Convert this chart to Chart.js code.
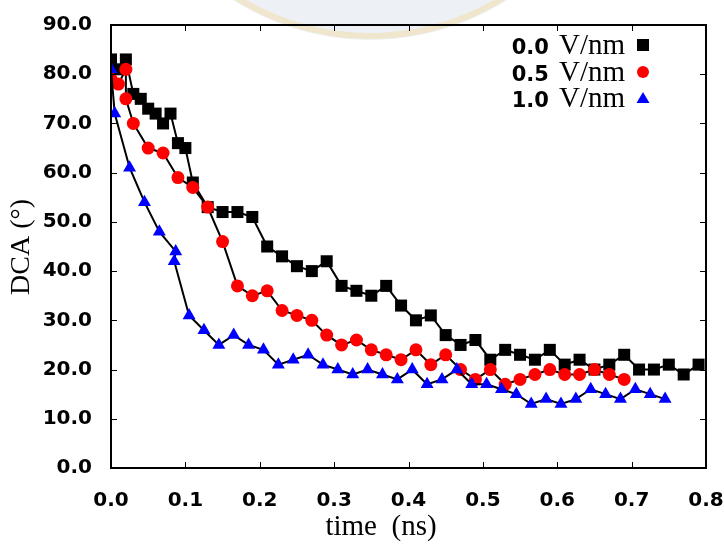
<!DOCTYPE html>
<html>
<head>
<meta charset="utf-8">
<script src="https://cdn.jsdelivr.net/npm/chart.js@4.4.1/dist/chart.umd.min.js"></script>
<style>
  html, body { margin: 0; padding: 0; background: #ffffff; }
  #wrap { width: 724px; height: 546px; position: relative; }
</style>
</head>
<body>
<div id="wrap"><canvas id="chart" width="724" height="546"></canvas></div>
<script>
// Contact-angle relaxation (DCA, degrees) versus simulation time (ns) for three field strengths.
const seriesLabels = ['0.0', '0.5', '1.0'];

const time00 = [0.00, 0.01, 0.02, 0.03, 0.04, 0.05, 0.06, 0.07, 0.08, 0.09, 0.10, 0.11,
  0.13, 0.15, 0.17, 0.19, 0.21, 0.23, 0.25, 0.27, 0.29, 0.31, 0.33, 0.35, 0.37, 0.39,
  0.41, 0.43, 0.45, 0.47, 0.49, 0.51, 0.53, 0.55, 0.57, 0.59, 0.61, 0.63, 0.65, 0.67,
  0.69, 0.71, 0.73, 0.75, 0.77, 0.79];
const dca00 = [83, 81, 83, 76, 75, 73, 72, 70, 72, 66, 65, 58,
  53, 52, 52, 51, 45, 43, 41, 40, 42, 37, 36, 35, 37, 33,
  30, 31, 27, 25, 26, 22, 24, 23, 22, 24, 21, 22, 20, 21,
  23, 20, 20, 21, 19, 21];

const time05 = [0.00, 0.01, 0.02, 0.02, 0.03, 0.05, 0.07, 0.09, 0.11, 0.13, 0.15, 0.17,
  0.19, 0.21, 0.23, 0.25, 0.27, 0.29, 0.31, 0.33, 0.35, 0.37, 0.39, 0.41, 0.43, 0.45,
  0.47, 0.49, 0.51, 0.53, 0.55, 0.57, 0.59, 0.61, 0.63, 0.65, 0.67, 0.69];
const dca05 = [79, 78, 81, 75, 70, 65, 64, 59, 57, 53, 46, 37,
  35, 36, 32, 31, 30, 27, 25, 26, 24, 23, 22, 24, 21, 23,
  20, 18, 20, 17, 18, 19, 20, 19, 19, 20, 19, 18];

const time10 = [0.000, 0.005, 0.025, 0.045, 0.065, 0.087, 0.085, 0.105, 0.125, 0.145,
  0.165, 0.185, 0.205, 0.225, 0.245, 0.265, 0.285, 0.305, 0.325, 0.345, 0.365, 0.385,
  0.405, 0.425, 0.445, 0.465, 0.485, 0.505, 0.525, 0.545, 0.565, 0.585, 0.605, 0.625,
  0.645, 0.665, 0.685, 0.705, 0.725, 0.745];
const dca10 = [81, 72, 61, 54, 48, 44, 42, 31, 28, 25,
  27, 25, 24, 21, 22, 23, 21, 20, 19, 20, 19, 18,
  20, 17, 18, 20, 17, 17, 16, 15, 13, 14, 13, 14,
  16, 15, 14, 16, 15, 14];

const xTicks = [0.0, 0.1, 0.2, 0.3, 0.4, 0.5, 0.6, 0.7, 0.8];
const yTicks = [0, 10, 20, 30, 40, 50, 60, 70, 80, 90];

const xTitle = 'time  (ns)';
const yTitle = 'DCA (°)';
const unitText = 'V/nm';

const markerColors = ['#000000', '#ff0000', '#0000ff'];
const markerStyles = ['rect', 'circle', 'triangle'];
const markerRadii = [8.5, 6.5, 7.5];

const TICK_FONT = { family: 'DejaVu Sans', size: 20, weight: 'bold' };
const SERIF = '"Liberation Serif", "Times New Roman", serif';

function pairs(xs, ys) { return xs.map((x, i) => ({ x: x, y: ys[i] })); }

const seriesData = [pairs(time00, dca00), pairs(time05, dca05), pairs(time10, dca10)];

const datasets = seriesData.map((d, i) => ({
  label: seriesLabels[i] + ' ' + unitText,
  data: d,
  order: 3 - i,
  borderColor: '#000000',
  borderWidth: 2,
  pointStyle: markerStyles[i],
  pointRadius: markerRadii[i],
  pointBackgroundColor: markerColors[i],
  pointBorderColor: markerColors[i],
  pointBorderWidth: 0,
  showLine: true,
  tension: 0,
  fill: false
}));

// Faint seal behind the plot (upper centre of the page).
const sealPlugin = {
  id: 'seal',
  beforeDraw(chart) {
    const { ctx } = chart;
    ctx.save();
    ctx.beginPath();
    ctx.arc(370, -215, 255, 0, Math.PI * 2);
    ctx.fillStyle = 'rgba(210, 219, 230, 0.4)';
    ctx.fill();
    ctx.beginPath();
    ctx.arc(370, -215, 251, 0, Math.PI * 2);
    ctx.strokeStyle = 'rgba(244, 210, 130, 0.35)';
    ctx.lineWidth = 6;
    ctx.stroke();
    ctx.restore();
  }
};

// Frame with inward ticks on all four sides (mirrored), plus the axis titles.
const framePlugin = {
  id: 'frame',
  afterDatasetsDraw(chart) {
    const { ctx, chartArea: a, scales } = chart;
    ctx.save();
    ctx.strokeStyle = '#000';
    ctx.lineWidth = 2;
    ctx.beginPath();
    ctx.rect(a.left, a.top, a.right - a.left, a.bottom - a.top);
    ctx.stroke();
    ctx.lineWidth = 1;
    const len = 6;
    ctx.beginPath();
    xTicks.forEach(v => {
      const px = Math.round(scales.x.getPixelForValue(v)) + 0.5;
      ctx.moveTo(px, a.bottom); ctx.lineTo(px, a.bottom - len);
      ctx.moveTo(px, a.top); ctx.lineTo(px, a.top + len);
    });
    yTicks.forEach(v => {
      const py = Math.round(scales.y.getPixelForValue(v)) + 0.5;
      ctx.moveTo(a.left, py); ctx.lineTo(a.left + len, py);
      ctx.moveTo(a.right, py); ctx.lineTo(a.right - len, py);
    });
    ctx.stroke();

    ctx.fillStyle = '#000';
    ctx.font = '29px ' + SERIF;
    ctx.textAlign = 'center';
    ctx.textBaseline = 'middle';
    ctx.fillText(xTitle, 381, 527);
    ctx.translate(22, 247);
    ctx.rotate(-Math.PI / 2);
    ctx.font = '28px ' + SERIF;
    ctx.fillText(yTitle, 0, 0);
    ctx.restore();
  }
};

// Key in the upper-right corner: label text right-aligned, marker to its right.
const keyPlugin = {
  id: 'key',
  afterDraw(chart) {
    const { ctx } = chart;
    const baselines = [54, 81, 107];
    const markerX = 643;
    ctx.save();
    ctx.textBaseline = 'alphabetic';
    ctx.textAlign = 'right';
    baselines.forEach((b, i) => {
      ctx.fillStyle = '#000';
      ctx.font = '29px ' + SERIF;
      const unitW = ctx.measureText(unitText).width;
      ctx.fillText(unitText, 625, b);
      ctx.font = 'bold 21px "DejaVu Sans"';
      ctx.fillText(seriesLabels[i], 625 - unitW - 10, b);
      const y = b - 9;
      ctx.fillStyle = markerColors[i];
      ctx.beginPath();
      if (i === 0) {
        ctx.rect(markerX - 6, y - 6, 12, 12);
      } else if (i === 1) {
        ctx.arc(markerX, y, 6, 0, Math.PI * 2);
      } else {
        ctx.moveTo(markerX, y - 6);
        ctx.lineTo(markerX + 6.5, y + 5);
        ctx.lineTo(markerX - 6.5, y + 5);
        ctx.closePath();
      }
      ctx.fill();
    });
    ctx.restore();
  }
};

new Chart(document.getElementById('chart'), {
  type: 'scatter',
  data: { datasets: datasets },
  options: {
    responsive: false,
    animation: false,
    devicePixelRatio: 1,
    layout: { padding: { top: 25, right: 18, left: 0, bottom: 0 } },
    plugins: {
      legend: { display: false },
      tooltip: { enabled: false }
    },
    scales: {
      x: {
        type: 'linear',
        min: 0, max: 0.8,
        afterBuildTicks(s) { s.ticks = xTicks.map(v => ({ value: v })); },
        afterFit(s) { s.height = 78; s.paddingLeft = 0; s.paddingRight = 0; },
        grid: { display: false },
        border: { display: false },
        ticks: {
          font: TICK_FONT, color: '#000', padding: 13,
          maxRotation: 0, autoSkip: false,
          callback: v => Number(v).toFixed(1)
        }
      },
      y: {
        type: 'linear',
        min: 0, max: 90,
        afterBuildTicks(s) { s.ticks = yTicks.map(v => ({ value: v })); },
        afterFit(s) { s.width = 111; },
        grid: { display: false },
        border: { display: false },
        ticks: {
          font: TICK_FONT, color: '#000', padding: 11,
          autoSkip: false,
          callback: v => Number(v).toFixed(1)
        }
      }
    }
  },
  plugins: [sealPlugin, framePlugin, keyPlugin]
});
</script>
</body>
</html>
